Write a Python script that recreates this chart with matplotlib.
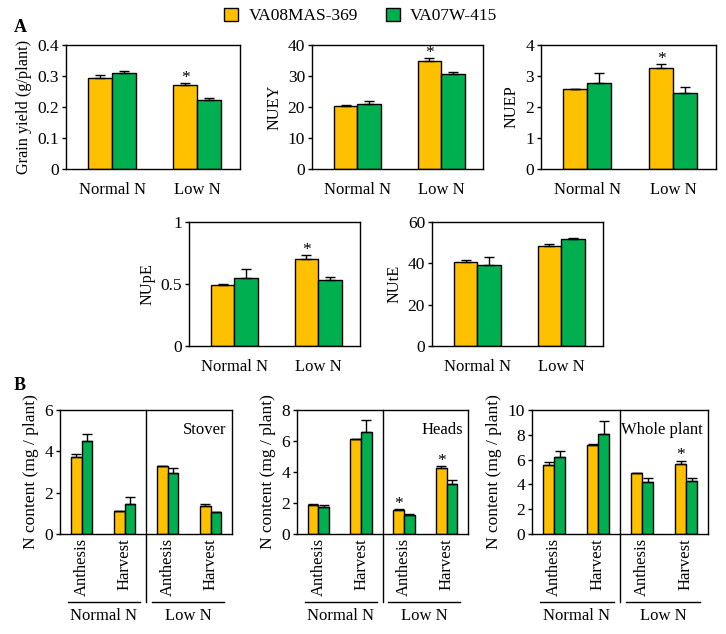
import matplotlib
matplotlib.use("Agg")
import matplotlib.pyplot as plt
import matplotlib.transforms as mtransforms
from matplotlib.patches import Patch
import numpy as np

plt.rcParams['font.family'] = ['Liberation Serif', 'DejaVu Serif']
plt.rcParams['font.size'] = 12

genotypes = ["VA08MAS-369", "VA07W-415"]
colors = ["#FFC000", "#00B050"]
conditions = ["Normal N", "Low N"]

# Panel A data: [orange, green] for [Normal N, Low N]
grain_mean = [[0.295, 0.272], [0.310, 0.222]]
grain_err = [[0.007, 0.004], [0.007, 0.008]]
nuey_mean = [[20.2, 34.8], [21.1, 30.7]]
nuey_err = [[0.6, 1.0], [0.7, 0.5]]
nuep_mean = [[2.57, 3.26], [2.76, 2.46]]
nuep_err = [[0.01, 0.12], [0.33, 0.17]]
nupe_mean = [[0.495, 0.70], [0.55, 0.53]]
nupe_err = [[0.003, 0.03], [0.075, 0.03]]
nute_mean = [[40.8, 48.2], [39.3, 51.6]]
nute_err = [[1.0, 1.0], [3.8, 0.5]]

# Panel B data: stages [Normal-Anthesis, Normal-Harvest, Low-Anthesis, Low-Harvest]
stages = ["Anthesis", "Harvest", "Anthesis", "Harvest"]
stover_mean = [[3.75, 1.10, 3.28, 1.35], [4.48, 1.45, 2.93, 1.05]]
stover_err = [[0.12, 0.02, 0.02, 0.10], [0.35, 0.33, 0.25, 0.02]]
heads_mean = [[1.85, 6.10, 1.58, 4.28], [1.72, 6.55, 1.22, 3.22]]
heads_err = [[0.08, 0.05, 0.05, 0.12], [0.15, 0.80, 0.06, 0.25]]
whole_mean = [[5.60, 7.20, 4.88, 5.62], [6.20, 8.05, 4.18, 4.30]]
whole_err = [[0.20, 0.05, 0.03, 0.30], [0.50, 1.10, 0.30, 0.25]]

W, H = 726, 634
fig = plt.figure(figsize=(W / 100, H / 100), dpi=100)


def rect(l, t, r, b):
    return [l / W, 1 - b / H, (r - l) / W, (b - t) / H]


def draw_bars(ax, means, errs, width, stars=()):
    n = len(means[0])
    x = np.arange(n)
    for g in range(2):
        xs = x + (g - 0.5) * width
        ax.bar(xs, means[g], width, color=colors[g], edgecolor="black",
               linewidth=1.0, zorder=2)
        ax.errorbar(xs, means[g], yerr=[np.zeros(n), errs[g]], fmt="none",
                    ecolor="black", elinewidth=1.0, capsize=width * 14,
                    capthick=1.0, zorder=3)
    for (g, i) in stars:
        xs = i + (g - 0.5) * width
        ax.annotate("*", (xs, means[g][i] + errs[g][i]), xytext=(0, -2),
                    textcoords="offset points", ha="center", va="bottom",
                    fontsize=12.5)
    for s in ax.spines.values():
        s.set_linewidth(1.0)
    ax.tick_params(axis="y", direction="out", length=3, width=1, pad=2,
                   labelsize=12.5)


def panel_a(ax, means, errs, ylim, yticks, ylabel, stars=()):
    draw_bars(ax, means, errs, 0.28, stars)
    ax.set_xlim(-0.54, 1.5)
    ax.set_ylim(*ylim)
    ax.set_yticks(yticks)
    ax.set_xticks([0, 1])
    ax.set_xticklabels(conditions)
    ax.tick_params(axis="x", length=0, pad=9, labelsize=12)
    ax.set_ylabel(ylabel, fontsize=11.7, labelpad=4)


def panel_b(ax, means, errs, ylim, yticks, title, stars=()):
    draw_bars(ax, means, errs, 0.25, stars)
    ax.set_xlim(-0.5, 3.5)
    ax.set_ylim(*ylim)
    ax.set_yticks(yticks)
    ax.set_xticks(np.arange(4))
    ax.set_xticklabels(stages, rotation=90)
    ax.tick_params(axis="x", length=0, pad=3, labelsize=12)
    ax.set_ylabel("N content (mg / plant)", fontsize=12.5, labelpad=4)
    tr = mtransforms.blended_transform_factory(ax.transData, ax.transAxes)
    ax.plot([1.5, 1.5], [1, -0.55], color="black", lw=1.0, transform=tr,
            clip_on=False)
    for (x0, x1, lab) in [(-0.32, 1.36, conditions[0]), (1.64, 3.32, conditions[1])]:
        ax.plot([x0, x1], [-0.548, -0.548], color="black", lw=1.0,
                transform=tr, clip_on=False)
        ax.text((x0 + x1) / 2, -0.6, lab, transform=tr, ha="center",
                va="top", fontsize=12)
    ax.text(0.97, 0.9, title, transform=ax.transAxes, ha="right", va="top",
            fontsize=12)


ax1 = fig.add_axes(rect(66, 45, 240, 169))
panel_a(ax1, grain_mean, grain_err, (0, 0.4), [0, 0.1, 0.2, 0.3, 0.4],
        "Grain yield (g/plant)", stars=[(0, 1)])
ax1.set_yticklabels(["0", "0.1", "0.2", "0.3", "0.4"])
ax2 = fig.add_axes(rect(312, 45, 483, 169))
panel_a(ax2, nuey_mean, nuey_err, (0, 40), [0, 10, 20, 30, 40], "NUEY",
        stars=[(0, 1)])
ax3 = fig.add_axes(rect(541, 45, 716, 169))
panel_a(ax3, nuep_mean, nuep_err, (0, 4), [0, 1, 2, 3, 4], "NUEP",
        stars=[(0, 1)])
ax4 = fig.add_axes(rect(189, 222, 360, 346))
panel_a(ax4, nupe_mean, nupe_err, (0, 1), [0, 0.5, 1], "NUpE", stars=[(0, 1)])
ax4.set_yticklabels(["0", "0.5", "1"])
ax5 = fig.add_axes(rect(432, 222, 603, 346))
panel_a(ax5, nute_mean, nute_err, (0, 60), [0, 20, 40, 60], "NUtE")

b1 = fig.add_axes(rect(60, 410, 232, 534))
panel_b(b1, stover_mean, stover_err, (0, 6), [0, 2, 4, 6], "Stover")
b2 = fig.add_axes(rect(297, 410, 468, 534))
panel_b(b2, heads_mean, heads_err, (0, 8), [0, 2, 4, 6, 8], "Heads",
        stars=[(0, 2), (0, 3)])
b3 = fig.add_axes(rect(532, 410, 708, 534))
panel_b(b3, whole_mean, whole_err, (0, 10), [0, 2, 4, 6, 8, 10],
        "Whole plant", stars=[(0, 3)])

fig.text(14 / W, 1 - 28 / H, "A", fontsize=13, fontweight="bold",
         va="center", ha="left")
fig.text(14 / W, 1 - 386 / H, "B", fontsize=13, fontweight="bold",
         va="center", ha="left")

handles = [Patch(facecolor=c, edgecolor="black", linewidth=1.0) for c in colors]
fig.legend(handles, genotypes, loc="center", bbox_to_anchor=(0.497, 1 - 16 / H),
           ncol=2, frameon=False, fontsize=12.5, handlelength=0.8,
           handleheight=0.8, handletextpad=0.6, columnspacing=1.6)

fig.savefig("out.png", dpi=100)
